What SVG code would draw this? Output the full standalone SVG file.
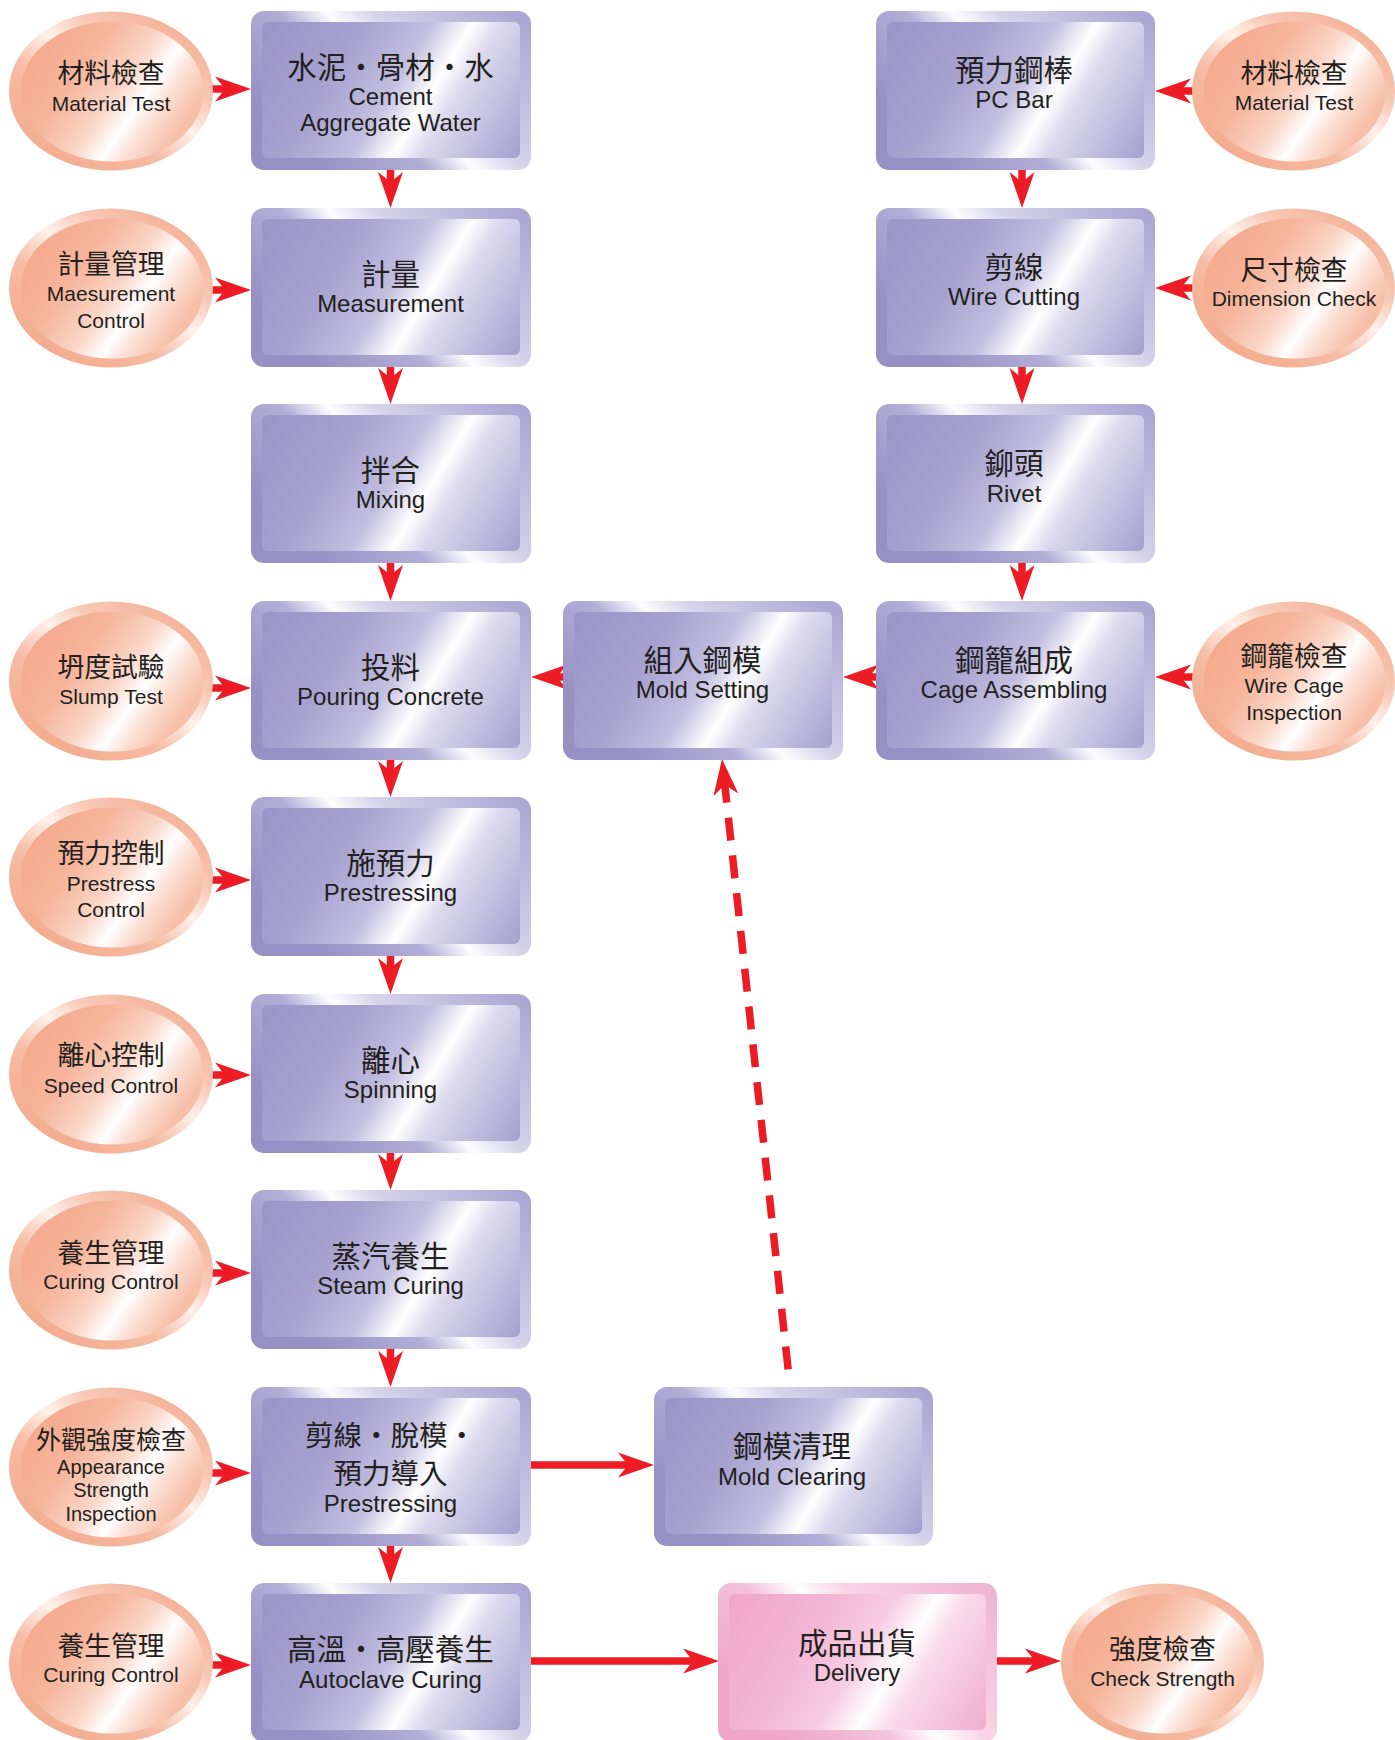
<svg xmlns="http://www.w3.org/2000/svg" width="1395" height="1740" viewBox="0 0 1395 1740">
<style>
.cn{font-family:"Noto Sans CJK TC","Noto Sans CJK SC",sans-serif;font-size:29.5px;fill:#231f20;text-anchor:middle}
.en{font-family:"Liberation Sans",Arial,sans-serif;font-size:24px;fill:#231f20;text-anchor:middle}
.ecn{font-family:"Noto Sans CJK TC","Noto Sans CJK SC",sans-serif;font-size:26.8px;fill:#231f20;text-anchor:middle}
.een{font-family:"Liberation Sans",Arial,sans-serif;font-size:21px;fill:#231f20;text-anchor:middle}
.bo{fill:url(#bxOut)}
.bi{fill:url(#bxIn)}
.po{fill:url(#pkOut)}
.pi{fill:url(#pkIn)}
.eo{fill:url(#elOut)}
.ei{fill:url(#elIn)}
.conn{stroke:#ed1c24;stroke-width:7.5;fill:none;marker-end:url(#ah)}
.dash{stroke:#ed1c24;stroke-width:7.5;fill:none;stroke-dasharray:23 15;stroke-dashoffset:5;marker-start:url(#ahs)}
</style>
<defs>
<linearGradient id="bxOut" x1="0" y1="0.536" x2="1" y2="0">
<stop offset="0" stop-color="#9790c5"/><stop offset="0.3" stop-color="#b3aed8"/><stop offset="0.43" stop-color="#fdfdff"/><stop offset="0.56" stop-color="#d6d3ea"/><stop offset="1" stop-color="#a7a2d1"/>
</linearGradient>
<linearGradient id="bxIn" x1="0" y1="0" x2="1.2" y2="0.384">
<stop offset="0" stop-color="#9b94c8"/><stop offset="0.3" stop-color="#a7a1d0"/><stop offset="0.5" stop-color="#c3bfe0"/><stop offset="0.62" stop-color="#ffffff"/><stop offset="0.7" stop-color="#dddaee"/><stop offset="1" stop-color="#a49fcf"/>
</linearGradient>
<linearGradient id="pkOut" x1="0" y1="0.536" x2="1" y2="0">
<stop offset="0" stop-color="#efa6ca"/><stop offset="0.3" stop-color="#f4c3dc"/><stop offset="0.43" stop-color="#ffffff"/><stop offset="0.56" stop-color="#f8d5e6"/><stop offset="1" stop-color="#f0b0d1"/>
</linearGradient>
<linearGradient id="pkIn" x1="0" y1="0" x2="1.2" y2="0.384">
<stop offset="0" stop-color="#f0a6cb"/><stop offset="0.3" stop-color="#f3b5d4"/><stop offset="0.5" stop-color="#f7cde2"/><stop offset="0.62" stop-color="#ffffff"/><stop offset="0.7" stop-color="#f9dcea"/><stop offset="1" stop-color="#f0acd0"/>
</linearGradient>
<linearGradient id="elOut" x1="0" y1="1" x2="0.88" y2="0">
<stop offset="0" stop-color="#f2a283"/><stop offset="0.4" stop-color="#f6bca4"/><stop offset="0.58" stop-color="#fff1eb"/><stop offset="0.72" stop-color="#f8c9b6"/><stop offset="1" stop-color="#f3a98c"/>
</linearGradient>
<linearGradient id="elIn" x1="0" y1="0" x2="1" y2="0.536">
<stop offset="0" stop-color="#f4a386"/><stop offset="0.4" stop-color="#f6b59b"/><stop offset="0.62" stop-color="#fad6c8"/><stop offset="0.75" stop-color="#ffffff"/><stop offset="0.85" stop-color="#fbdfd4"/><stop offset="1" stop-color="#f7bfa8"/>
</linearGradient>
<marker id="ah" markerUnits="userSpaceOnUse" viewBox="0 0 40 28" markerWidth="40" markerHeight="28" refX="10" refY="13" orient="auto">
<path d="M0,0.5 L36,13 L0,25.5 L10,13 Z" fill="#ed1c24"/>
</marker>
<marker id="ahs" markerUnits="userSpaceOnUse" viewBox="0 0 40 28" markerWidth="40" markerHeight="28" refX="10" refY="13" orient="auto-start-reverse">
<path d="M0,0.5 L36,13 L0,25.5 L10,13 Z" fill="#ed1c24"/>
</marker>
</defs>

<g id="connectors">
<line class="conn" x1="390.5" y1="170" x2="390.5" y2="182"/>
<line class="conn" x1="390.5" y1="367" x2="390.5" y2="378"/>
<line class="conn" x1="390.5" y1="563" x2="390.5" y2="575"/>
<line class="conn" x1="390.5" y1="760" x2="390.5" y2="771"/>
<line class="conn" x1="390.5" y1="956" x2="390.5" y2="968"/>
<line class="conn" x1="390.5" y1="1153" x2="390.5" y2="1164"/>
<line class="conn" x1="390.5" y1="1349" x2="390.5" y2="1361"/>
<line class="conn" x1="390.5" y1="1546" x2="390.5" y2="1557"/>
<line class="conn" x1="1022" y1="170" x2="1022" y2="182"/>
<line class="conn" x1="1022" y1="367" x2="1022" y2="378"/>
<line class="conn" x1="1022" y1="563" x2="1022" y2="575"/>
<line class="conn" x1="212" y1="89" x2="225" y2="89"/>
<line class="conn" x1="212" y1="290" x2="225" y2="290"/>
<line class="conn" x1="212" y1="688" x2="225" y2="688"/>
<line class="conn" x1="212" y1="880" x2="225" y2="880"/>
<line class="conn" x1="212" y1="1075" x2="225" y2="1075"/>
<line class="conn" x1="212" y1="1273" x2="225" y2="1273"/>
<line class="conn" x1="212" y1="1473" x2="225" y2="1473"/>
<line class="conn" x1="212" y1="1665" x2="225" y2="1665"/>
<line class="conn" x1="1193" y1="91" x2="1181" y2="91"/>
<line class="conn" x1="1193" y1="288" x2="1181" y2="288"/>
<line class="conn" x1="1193" y1="677" x2="1181" y2="677"/>
<line class="conn" x1="877" y1="677" x2="869" y2="677"/>
<line class="conn" x1="564" y1="677" x2="557" y2="677"/>
<line class="conn" x1="530" y1="1465" x2="628" y2="1465"/>
<line class="conn" x1="530" y1="1661" x2="693" y2="1661"/>
<line class="conn" x1="996" y1="1661" x2="1035" y2="1661"/>
<line class="dash" x1="724.8" y1="784.8" x2="789.3" y2="1380"/>
</g>

<g id="n-cement">
<rect class="bo" x="251" y="11" width="280" height="159" rx="13"/>
<rect class="bi" x="262" y="22" width="258" height="136" rx="6"/>
<text class="cn" x="390.5" y="78">水泥・骨材・水</text>
<text class="en" x="390.5" y="105">Cement</text>
<text class="en" x="390.5" y="131">Aggregate Water</text>
</g>
<g id="n-measurement">
<rect class="bo" x="251" y="208" width="280" height="159" rx="13"/>
<rect class="bi" x="262" y="219" width="258" height="136" rx="6"/>
<text class="cn" x="390.5" y="285">計量</text>
<text class="en" x="390.5" y="312">Measurement</text>
</g>
<g id="n-mixing">
<rect class="bo" x="251" y="404" width="280" height="159" rx="13"/>
<rect class="bi" x="262" y="415" width="258" height="136" rx="6"/>
<text class="cn" x="390.5" y="481">拌合</text>
<text class="en" x="390.5" y="508">Mixing</text>
</g>
<g id="n-pouring">
<rect class="bo" x="251" y="601" width="280" height="159" rx="13"/>
<rect class="bi" x="262" y="612" width="258" height="136" rx="6"/>
<text class="cn" x="390.5" y="678">投料</text>
<text class="en" x="390.5" y="705">Pouring Concrete</text>
</g>
<g id="n-prestressing">
<rect class="bo" x="251" y="797" width="280" height="159" rx="13"/>
<rect class="bi" x="262" y="808" width="258" height="136" rx="6"/>
<text class="cn" x="390.5" y="874">施預力</text>
<text class="en" x="390.5" y="901">Prestressing</text>
</g>
<g id="n-spinning">
<rect class="bo" x="251" y="994" width="280" height="159" rx="13"/>
<rect class="bi" x="262" y="1005" width="258" height="136" rx="6"/>
<text class="cn" x="390.5" y="1071">離心</text>
<text class="en" x="390.5" y="1098">Spinning</text>
</g>
<g id="n-steam">
<rect class="bo" x="251" y="1190" width="280" height="159" rx="13"/>
<rect class="bi" x="262" y="1201" width="258" height="136" rx="6"/>
<text class="cn" x="390.5" y="1267">蒸汽養生</text>
<text class="en" x="390.5" y="1294">Steam Curing</text>
</g>
<g id="n-demold">
<rect class="bo" x="251" y="1387" width="280" height="159" rx="13"/>
<rect class="bi" x="262" y="1398" width="258" height="136" rx="6"/>
<text class="cn" x="390.5" y="1446" style="font-size:28.5px">剪線・脫模・</text>
<text class="cn" x="390.5" y="1484" style="font-size:28.5px">預力導入</text>
<text class="en" x="390.5" y="1512">Prestressing</text>
</g>
<g id="n-autoclave">
<rect class="bo" x="251" y="1583" width="280" height="159" rx="13"/>
<rect class="bi" x="262" y="1594" width="258" height="136" rx="6"/>
<text class="cn" x="390.5" y="1660">高溫・高壓養生</text>
<text class="en" x="390.5" y="1688">Autoclave Curing</text>
</g>

<g id="n-pcbar">
<rect class="bo" x="876" y="11" width="279" height="159" rx="13"/>
<rect class="bi" x="887" y="22" width="257" height="136" rx="6"/>
<text class="cn" x="1014" y="81">預力鋼棒</text>
<text class="en" x="1014" y="108">PC Bar</text>
</g>
<g id="n-wirecut">
<rect class="bo" x="876" y="208" width="279" height="159" rx="13"/>
<rect class="bi" x="887" y="219" width="257" height="136" rx="6"/>
<text class="cn" x="1014" y="278">剪線</text>
<text class="en" x="1014" y="305">Wire Cutting</text>
</g>
<g id="n-rivet">
<rect class="bo" x="876" y="404" width="279" height="159" rx="13"/>
<rect class="bi" x="887" y="415" width="257" height="136" rx="6"/>
<text class="cn" x="1014" y="474">鉚頭</text>
<text class="en" x="1014" y="502">Rivet</text>
</g>
<g id="n-cage">
<rect class="bo" x="876" y="601" width="279" height="159" rx="13"/>
<rect class="bi" x="887" y="612" width="257" height="136" rx="6"/>
<text class="cn" x="1014" y="671">鋼籠組成</text>
<text class="en" x="1014" y="698">Cage Assembling</text>
</g>
<g id="n-moldset">
<rect class="bo" x="563" y="601" width="280" height="159" rx="13"/>
<rect class="bi" x="574" y="612" width="258" height="136" rx="6"/>
<text class="cn" x="702.5" y="671">組入鋼模</text>
<text class="en" x="702.5" y="698">Mold Setting</text>
</g>
<g id="n-moldclear">
<rect class="bo" x="654" y="1387" width="279" height="159" rx="13"/>
<rect class="bi" x="665" y="1398" width="257" height="136" rx="6"/>
<text class="cn" x="792" y="1457">鋼模清理</text>
<text class="en" x="792" y="1485">Mold Clearing</text>
</g>
<g id="n-delivery">
<rect class="po" x="718" y="1583" width="279" height="159" rx="13"/>
<rect class="pi" x="729" y="1594" width="257" height="136" rx="6"/>
<text class="cn" x="857" y="1654">成品出貨</text>
<text class="en" x="857" y="1681">Delivery</text>
</g>

<g id="e-material-left">
<ellipse class="eo" cx="111" cy="91" rx="102" ry="79.5"/>
<ellipse class="ei" cx="112" cy="91.5" rx="91.5" ry="70"/>
<text class="ecn" x="111" y="83">材料檢查</text>
<text class="een" x="111" y="111">Material Test</text>
</g>
<g id="e-measure-ctrl">
<ellipse class="eo" cx="111" cy="288" rx="102" ry="79.5"/>
<ellipse class="ei" cx="112" cy="288.5" rx="91.5" ry="70"/>
<text class="ecn" x="111" y="274">計量管理</text>
<text class="een" x="111" y="301">Maesurement</text>
<text class="een" x="111" y="328">Control</text>
</g>
<g id="e-slump">
<ellipse class="eo" cx="111" cy="681" rx="102" ry="79.5"/>
<ellipse class="ei" cx="112" cy="681.5" rx="91.5" ry="70"/>
<text class="ecn" x="111" y="677">坍度試驗</text>
<text class="een" x="111" y="704">Slump Test</text>
</g>
<g id="e-prestress-ctrl">
<ellipse class="eo" cx="111" cy="877" rx="102" ry="79.5"/>
<ellipse class="ei" cx="112" cy="877.5" rx="91.5" ry="70"/>
<text class="ecn" x="111" y="863">預力控制</text>
<text class="een" x="111" y="891">Prestress</text>
<text class="een" x="111" y="917">Control</text>
</g>
<g id="e-speed">
<ellipse class="eo" cx="111" cy="1074" rx="102" ry="79.5"/>
<ellipse class="ei" cx="112" cy="1074.5" rx="91.5" ry="70"/>
<text class="ecn" x="111" y="1065">離心控制</text>
<text class="een" x="111" y="1093">Speed Control</text>
</g>
<g id="e-curing1">
<ellipse class="eo" cx="111" cy="1270" rx="102" ry="79.5"/>
<ellipse class="ei" cx="112" cy="1270.5" rx="91.5" ry="70"/>
<text class="ecn" x="111" y="1263">養生管理</text>
<text class="een" x="111" y="1289">Curing Control</text>
</g>
<g id="e-appearance">
<ellipse class="eo" cx="111" cy="1467" rx="102" ry="79.5"/>
<ellipse class="ei" cx="112" cy="1467.5" rx="91.5" ry="70"/>
<text class="ecn" x="111" y="1449" style="font-size:25px">外觀強度檢查</text>
<text class="een" x="111" y="1474" style="font-size:20px">Appearance</text>
<text class="een" x="111" y="1497" style="font-size:20px">Strength</text>
<text class="een" x="111" y="1521" style="font-size:20px">Inspection</text>
</g>
<g id="e-curing2">
<ellipse class="eo" cx="111" cy="1663" rx="102" ry="79.5"/>
<ellipse class="ei" cx="112" cy="1663.5" rx="91.5" ry="70"/>
<text class="ecn" x="111" y="1656">養生管理</text>
<text class="een" x="111" y="1682">Curing Control</text>
</g>

<g id="e-material-right">
<ellipse class="eo" cx="1293.5" cy="91" rx="101.5" ry="79.5"/>
<ellipse class="ei" cx="1294.5" cy="91.5" rx="91" ry="70"/>
<text class="ecn" x="1294" y="83">材料檢查</text>
<text class="een" x="1294" y="110">Material Test</text>
</g>
<g id="e-dimension">
<ellipse class="eo" cx="1293.5" cy="288" rx="101.5" ry="79.5"/>
<ellipse class="ei" cx="1294.5" cy="288.5" rx="91" ry="70"/>
<text class="ecn" x="1294" y="280">尺寸檢查</text>
<text class="een" x="1294" y="306">Dimension Check</text>
</g>
<g id="e-wirecage">
<ellipse class="eo" cx="1293.5" cy="681" rx="101.5" ry="79.5"/>
<ellipse class="ei" cx="1294.5" cy="681.5" rx="91" ry="70"/>
<text class="ecn" x="1294" y="666">鋼籠檢查</text>
<text class="een" x="1294" y="693">Wire Cage</text>
<text class="een" x="1294" y="720">Inspection</text>
</g>
<g id="e-strength">
<ellipse class="eo" cx="1162.5" cy="1663" rx="101.5" ry="79.5"/>
<ellipse class="ei" cx="1163.5" cy="1663.5" rx="91" ry="70"/>
<text class="ecn" x="1162.5" y="1659">強度檢查</text>
<text class="een" x="1162.5" y="1686">Check Strength</text>
</g>
</svg>
